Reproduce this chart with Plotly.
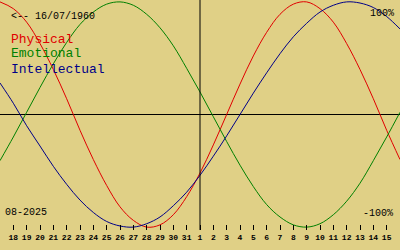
import plotly.graph_objects as go

birth_label = "<-- 16/07/1960"
month_label = "08-2025"
series_names = ["Physical", "Emotional", "Intellectual"]
top_label = "100%"
bottom_label = "-100%"

# day positions: Aug 17 (index 0) .. Sep 16 (index 30); ticks for Aug 18 .. Sep 15
x_days = list(range(31))
day_labels = ["18", "19", "20", "21", "22", "23", "24", "25", "26", "27", "28", "29", "30", "31",
              "1", "2", "3", "4", "5", "6", "7", "8", "9", "10", "11", "12", "13", "14", "15"]
today_label = "1"

physical = [1.00, 0.94, 0.82, 0.63, 0.40, 0.14, -0.14, -0.40, -0.63, -0.82, -0.94, -1.00,
            -0.98, -0.89, -0.73, -0.52, -0.27, 0.00, 0.27, 0.52, 0.73, 0.89, 0.98, 1.00,
            0.94, 0.82, 0.63, 0.40, 0.14, -0.14, -0.40]
emotional = [-0.41, -0.20, 0.02, 0.24, 0.45, 0.64, 0.80, 0.91, 0.98, 1.00, 0.97, 0.89,
             0.77, 0.61, 0.41, 0.20, -0.02, -0.24, -0.45, -0.64, -0.80, -0.91, -0.98, -1.00,
             -0.97, -0.89, -0.77, -0.61, -0.41, -0.20, 0.02]
intellectual = [0.28, 0.10, -0.10, -0.28, -0.46, -0.62, -0.76, -0.87, -0.95, -0.99, -1.00,
                -0.97, -0.91, -0.81, -0.69, -0.54, -0.37, -0.19, 0.00, 0.19, 0.37, 0.54,
                0.69, 0.81, 0.91, 0.97, 1.00, 0.99, 0.95, 0.87, 0.76]

colors = ["#e00000", "#008000", "#000088"]
bg = "rgb(224,208,134)"
mono = "Liberation Mono"

fig = go.Figure()
for name, vals, col in zip(series_names, [physical, emotional, intellectual], colors):
    fig.add_trace(go.Scatter(x=x_days, y=vals, mode="lines", name=name,
                             line=dict(color=col, width=1, shape="spline"),
                             hoverinfo="skip"))

tick_x = x_days[1:-1]
today_x = tick_x[day_labels.index(today_label)]
fig.add_shape(type="line", xref="x", yref="paper", x0=today_x, x1=today_x, y0=0, y1=1,
              line=dict(color="black", width=1))

def ann(text, x, y, size, color="black", xanchor="left"):
    fig.add_annotation(text=text, xref="paper", yref="paper", x=x, y=y, showarrow=False,
                       xanchor=xanchor, yanchor="middle", borderpad=0,
                       font=dict(family=mono, size=size, color=color))

ann(birth_label, 9.5 / 400, 1 - 16.5 / 230, 10)
ann(series_names[0], 9.5 / 400, 1 - 39 / 230, 13, colors[0])
ann(series_names[1], 9.5 / 400, 1 - 54 / 230, 13, colors[1])
ann(series_names[2], 9.5 / 400, 1 - 69 / 230, 13, colors[2])
ann(top_label, 395 / 400, 1 - 13 / 230, 10, xanchor="right")
ann(bottom_label, 394 / 400, 1 - 213 / 230, 10, xanchor="right")
ann(month_label, 4 / 400, 1 - 212.5 / 230, 10)

fig.update_layout(
    width=400, height=250,
    margin=dict(l=0, r=0, t=0, b=20),
    paper_bgcolor=bg, plot_bgcolor=bg,
    showlegend=False,
    xaxis=dict(range=[0, 30], tickvals=tick_x, ticktext=day_labels,
               ticks="inside", ticklen=5, tickwidth=1, tickcolor="black",
               showgrid=False, zeroline=False, showline=False,
               ticklabelstandoff=1,
               tickfont=dict(family=mono, size=8, color="black", weight="bold"),
               fixedrange=True),
    yaxis=dict(range=[-1.0257, 1.0169], showgrid=False, showticklabels=False,
               zeroline=True, zerolinecolor="black", zerolinewidth=1,
               showline=False, ticks="", fixedrange=True),
)

fig.write_html("out.html")
